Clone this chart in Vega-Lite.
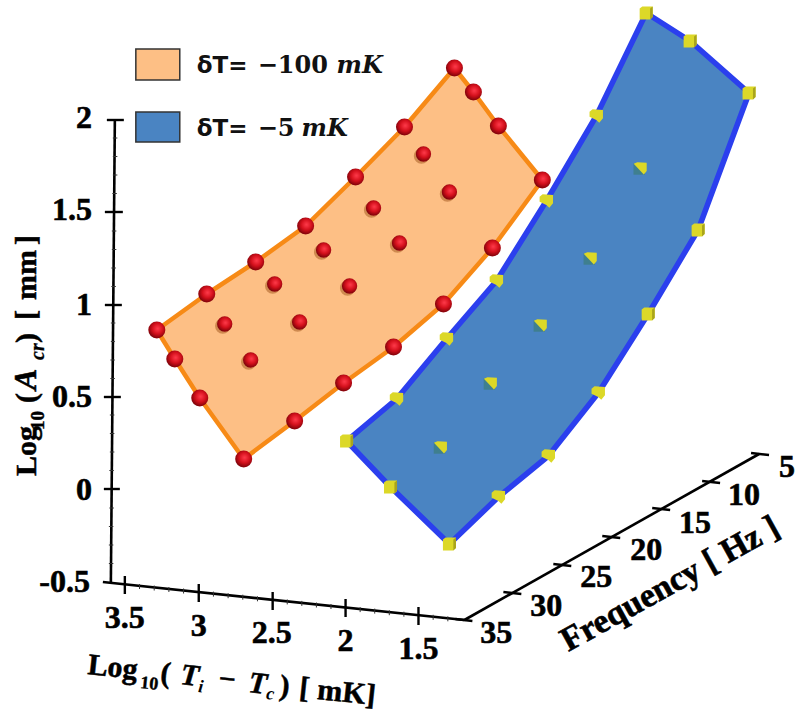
{
"$schema":"https://vega.github.io/schema/vega-lite/v6.json",
"width":795,"height":713,"padding":0,
"autosize":{"type":"fit","contains":"padding"},
"config":{"view":{"stroke":null}},
"datasets":{
"axisLines":[{"x":103,"y":582,"x2":465,"y2":620},{"x":465,"y":620,"x2":760,"y2":454},{"x":111,"y":582,"x2":115,"y2":120}],
"majorTicks":[
{"x":107,"y":120,"x2":124,"y2":120},{"x":105,"y":212,"x2":123,"y2":212},{"x":105,"y":305,"x2":122,"y2":305},{"x":104,"y":397,"x2":121,"y2":397},{"x":104,"y":489,"x2":120,"y2":489},
{"x":125,"y":576,"x2":125,"y2":594},{"x":199,"y":584,"x2":199,"y2":602},{"x":273,"y":592,"x2":273,"y2":610},{"x":346,"y":599,"x2":346,"y2":617},{"x":419,"y":607,"x2":419,"y2":625},
{"x":752,"y":453,"x2":770,"y2":455},{"x":703,"y":481,"x2":721,"y2":483},{"x":653,"y":508,"x2":671,"y2":510},{"x":603,"y":536,"x2":621,"y2":538},{"x":554,"y":564,"x2":572,"y2":566},{"x":504,"y":592,"x2":522,"y2":594},{"x":456,"y":619,"x2":473,"y2":621}],
"minorTicks":[
{"x":109,"y":563.5,"x2":113.5,"y2":563.5},{"x":109,"y":545,"x2":113.5,"y2":545},{"x":109,"y":526.5,"x2":113.5,"y2":526.5},{"x":109.5,"y":508,"x2":114,"y2":508},
{"x":109.5,"y":470.5,"x2":114,"y2":470.5},{"x":110,"y":452,"x2":114.5,"y2":452},{"x":110,"y":433.5,"x2":114.5,"y2":433.5},{"x":110,"y":415,"x2":114.5,"y2":415},
{"x":110.5,"y":378.5,"x2":115,"y2":378.5},{"x":110.5,"y":360,"x2":115,"y2":360},{"x":111,"y":341.5,"x2":115,"y2":341.5},{"x":111,"y":323,"x2":115.5,"y2":323},
{"x":111.5,"y":286.5,"x2":116,"y2":286.5},{"x":111.5,"y":268,"x2":116,"y2":268},{"x":112,"y":249.5,"x2":116.5,"y2":249.5},{"x":112,"y":231,"x2":116.5,"y2":231},
{"x":112.5,"y":193.5,"x2":117,"y2":193.5},{"x":113,"y":175,"x2":117.5,"y2":175},{"x":113,"y":156.5,"x2":117.5,"y2":156.5},{"x":113,"y":138,"x2":117.5,"y2":138},
{"x":139.7,"y":584,"x2":139.7,"y2":589},{"x":154.4,"y":585.5,"x2":154.4,"y2":590.5},{"x":169.1,"y":587,"x2":169.1,"y2":592},{"x":183.8,"y":588.5,"x2":183.8,"y2":593.5},
{"x":213.7,"y":591.6,"x2":213.7,"y2":596.6},{"x":228.4,"y":593.2,"x2":228.4,"y2":598.2},{"x":243.1,"y":594.7,"x2":243.1,"y2":599.7},{"x":257.8,"y":596.3,"x2":257.8,"y2":601.3},
{"x":287.6,"y":599.4,"x2":287.6,"y2":604.4},{"x":302.2,"y":600.9,"x2":302.2,"y2":605.9},{"x":316.8,"y":602.5,"x2":316.8,"y2":607.5},{"x":331.4,"y":604,"x2":331.4,"y2":609},
{"x":360.6,"y":607.1,"x2":360.6,"y2":612.1},{"x":375.2,"y":608.6,"x2":375.2,"y2":613.6},{"x":389.8,"y":610.2,"x2":389.8,"y2":615.2},{"x":404.4,"y":611.7,"x2":404.4,"y2":616.7},
{"x":433.7,"y":614.8,"x2":433.7,"y2":619.8},{"x":448.4,"y":616.3,"x2":448.4,"y2":621.3}],
"tickLabels":[
{"x":92,"y":118,"t":"2"},{"x":92,"y":210,"t":"1.5"},{"x":92,"y":305,"t":"1"},{"x":92,"y":397,"t":"0.5"},{"x":92,"y":490,"t":"0"},{"x":90,"y":582,"t":"-0.5"}],
"tickLabelsC":[
{"x":125,"y":618,"t":"3.5"},{"x":199,"y":626,"t":"3"},{"x":272,"y":633,"t":"2.5"},{"x":346,"y":641,"t":"2"},{"x":419,"y":649,"t":"1.5"},
{"x":788,"y":467,"t":"5"},{"x":745,"y":495,"t":"10"},{"x":696,"y":523,"t":"15"},{"x":647,"y":550,"t":"20"},{"x":597,"y":577,"t":"25"},{"x":547,"y":606,"t":"30"},{"x":497,"y":633,"t":"35"}],
"orangeEdge":[{"i":0,"x":157,"y":330},{"i":1,"x":207,"y":294},{"i":2,"x":256,"y":262},{"i":3,"x":306,"y":226},{"i":4,"x":356,"y":177},{"i":5,"x":405,"y":127},{"i":6,"x":455,"y":68},{"i":7,"x":474,"y":92},{"i":8,"x":499,"y":126},{"i":9,"x":543,"y":180},{"i":10,"x":493,"y":248},{"i":11,"x":444,"y":304},{"i":12,"x":394,"y":347},{"i":13,"x":344,"y":383},{"i":14,"x":295,"y":421},{"i":15,"x":244,"y":459},{"i":16,"x":200,"y":398},{"i":17,"x":175,"y":359},{"i":18,"x":157,"y":330}],
"orangeInner":[{"x":225,"y":324},{"x":275,"y":284},{"x":324,"y":250},{"x":374,"y":208},{"x":424,"y":154},{"x":251,"y":360},{"x":300,"y":322},{"x":350,"y":286},{"x":400,"y":243},{"x":450,"y":192}],
"blueEdge":[{"i":0,"x":347,"y":441},{"i":1,"x":397,"y":399},{"i":2,"x":447,"y":339},{"i":3,"x":497,"y":281},{"i":4,"x":547,"y":201},{"i":5,"x":597,"y":116},{"i":6,"x":647,"y":13},{"i":7,"x":691,"y":41},{"i":8,"x":750,"y":93},{"i":9,"x":699,"y":230},{"i":10,"x":649,"y":314},{"i":11,"x":599,"y":393},{"i":12,"x":549,"y":456},{"i":13,"x":499,"y":497},{"i":14,"x":450,"y":544},{"i":15,"x":391,"y":487},{"i":16,"x":347,"y":441}],
"cubesFull":[{"x":347,"y":441},{"x":450,"y":544},{"x":391,"y":487},{"x":647,"y":13},{"x":691,"y":41},{"x":750,"y":93},{"x":699,"y":230},{"x":649,"y":314}],
"cubesHalf":[{"x":397,"y":399},{"x":447,"y":339},{"x":497,"y":281},{"x":547,"y":201},{"x":597,"y":116},{"x":599,"y":393},{"x":549,"y":456},{"x":499,"y":497}],
"cubesInner":[{"x":441,"y":447},{"x":491,"y":383},{"x":541,"y":325},{"x":591,"y":258},{"x":641,"y":168}],
"legendBoxes":[{"s":"a","x":136,"x2":180,"y":49,"y2":80},{"s":"b","x":136,"x2":180,"y":112,"y2":142}],
"legendSans":[{"x":197,"y":73,"t":"δT="},{"x":197,"y":136,"t":"δT="}],
"legendNum":[{"x":258,"y":73,"t":"−100"},{"x":258,"y":136,"t":"−5"}],
"legendUnit":[{"x":337,"y":73,"t":"mK"},{"x":302,"y":136,"t":"mK"}],
"zTitleMain":[{"x":36,"y":476,"t":"Log"},{"x":36,"y":403,"t":"("},{"x":36,"y":343,"t":")"},{"x":36,"y":320,"t":"["},{"x":36,"y":300,"t":"mm"},{"x":36,"y":245,"t":"]"}],
"zTitleSub":[{"x":44,"y":430,"t":"10"}],
"zTitleIt":[{"x":36,"y":390,"t":"A"}],
"zTitleItSub":[{"x":44,"y":360,"t":"cr"}],
"xTitleMain":[{"x":87,"y":674,"t":"Log"},{"x":160,"y":682,"t":"("},{"x":218,"y":688,"t":"−"},{"x":279,"y":695,"t":")"},{"x":299,"y":697,"t":"["},{"x":317,"y":699,"t":"mK]"}],
"xTitleSub":[{"x":140,"y":688,"t":"10"}],
"xTitleIt":[{"x":180,"y":684,"t":"T"},{"x":248,"y":692,"t":"T"}],
"xTitleItSub":[{"x":198,"y":692,"t":"i"},{"x":266,"y":699,"t":"c"}],
"fTitle":[{"x":569,"y":652,"t":"Frequency [ Hz ]"}]
},
"encoding":{
"x":{"field":"x","type":"quantitative","axis":null,"scale":{"domain":[0,795],"nice":false,"zero":false}},
"y":{"field":"y","type":"quantitative","axis":null,"scale":{"domain":[713,0],"nice":false,"zero":false}}
},
"layer":[
{"data":{"name":"axisLines"},"mark":{"type":"rule","color":"#000","strokeWidth":2.6},"encoding":{"x2":{"field":"x2"},"y2":{"field":"y2"}}},
{"data":{"name":"majorTicks"},"mark":{"type":"rule","color":"#000","strokeWidth":2.4},"encoding":{"x2":{"field":"x2"},"y2":{"field":"y2"}}},
{"data":{"name":"minorTicks"},"mark":{"type":"rule","color":"#333","strokeWidth":1},"encoding":{"x2":{"field":"x2"},"y2":{"field":"y2"}}},
{"data":{"name":"tickLabels"},"mark":{"type":"text","font":"Liberation Serif","fontWeight":"bold","fontSize":32,"align":"right","baseline":"middle","color":"#000","stroke":"#000","strokeWidth":0.6},"encoding":{"text":{"field":"t"}}},
{"data":{"name":"tickLabelsC"},"mark":{"type":"text","font":"Liberation Serif","fontWeight":"bold","fontSize":32,"align":"center","baseline":"middle","color":"#000","stroke":"#000","strokeWidth":0.6},"encoding":{"text":{"field":"t"}}},
{"data":{"name":"orangeEdge"},"mark":{"type":"line","fill":"#fdbf85","stroke":"#f78a16","strokeWidth":4.5,"strokeJoin":"round"},"encoding":{"order":{"field":"i"}}},
{"data":{"name":"orangeInner"},"mark":{"type":"point","shape":"circle","filled":true,"fill":"#cf8a50","opacity":1,"size":235,"xOffset":-2,"yOffset":2}},
{"data":{"name":"orangeEdge"},"transform":[{"filter":"datum.i<18"}],"mark":{"type":"point","shape":"circle","filled":true,"opacity":1,"size":290,"fill":{"gradient":"radial","x1":0.55,"y1":0.42,"r1":0,"x2":0.55,"y2":0.42,"r2":0.62,"stops":[{"offset":0,"color":"#ff3b4b"},{"offset":0.5,"color":"#d4101c"},{"offset":1,"color":"#6e0006"}]}}},
{"data":{"name":"orangeInner"},"mark":{"type":"point","shape":"circle","filled":true,"opacity":1,"size":235,"fill":{"gradient":"radial","x1":0.55,"y1":0.42,"r1":0,"x2":0.55,"y2":0.42,"r2":0.62,"stops":[{"offset":0,"color":"#ff3b4b"},{"offset":0.5,"color":"#d4101c"},{"offset":1,"color":"#6e0006"}]}}},
{"data":{"name":"blueEdge"},"mark":{"type":"line","fill":"#4a84c2","stroke":"#2b3fee","strokeWidth":5.5,"strokeJoin":"round"},"encoding":{"order":{"field":"i"}}},
{"data":{"name":"cubesInner"},"mark":{"type":"point","shape":"square","filled":true,"fill":"#3f7f8f","opacity":1,"size":130,"xOffset":-1,"yOffset":1}},
{"data":{"name":"cubesHalf"},"mark":{"type":"point","shape":"M-1,-0.65L-0.55,-1L1,-0.9L1,0.35L0.45,1L0,0.6L-1,0.1Z","filled":true,"fill":"#dcd828","opacity":1,"size":180}},
{"data":{"name":"cubesInner"},"mark":{"type":"point","shape":"M-1,-0.65L-0.45,-0.9L1,-0.8L1,0.45L0.55,1Z","filled":true,"fill":"#dcd828","opacity":1,"size":170}},
{"data":{"name":"cubesFull"},"mark":{"type":"point","shape":"M-1,-0.7L-0.6,-1L1,-1L1,0.6L0.6,1L-1,1Z","filled":true,"fill":"#dcd828","opacity":1,"size":170}},
{"data":{"name":"cubesFull"},"mark":{"type":"point","shape":"M0.6,-0.7L1,-1L1,0.6L0.6,1Z","filled":true,"fill":"#a9a41c","opacity":1,"size":170}},
{"data":{"name":"legendBoxes"},"mark":{"type":"rect","stroke":"#333","strokeWidth":1.5},"encoding":{"x2":{"field":"x2"},"y2":{"field":"y2"},"color":{"field":"s","type":"nominal","legend":null,"scale":{"domain":["a","b"],"range":["#fdbf85","#4a84c2"]}}}},
{"data":{"name":"legendSans"},"mark":{"type":"text","font":"DejaVu Sans","fontWeight":"bold","fontSize":23,"align":"left","baseline":"alphabetic","color":"#111"},"encoding":{"text":{"field":"t"}}},
{"data":{"name":"legendNum"},"mark":{"type":"text","font":"DejaVu Serif","fontWeight":"bold","fontSize":24,"align":"left","baseline":"alphabetic","color":"#111"},"encoding":{"text":{"field":"t"}}},
{"data":{"name":"legendUnit"},"mark":{"type":"text","font":"DejaVu Serif","fontWeight":"bold","fontStyle":"italic","fontSize":24,"align":"left","baseline":"alphabetic","color":"#111"},"encoding":{"text":{"field":"t"}}},
{"data":{"name":"zTitleMain"},"mark":{"type":"text","font":"Liberation Serif","fontWeight":"bold","fontSize":30,"angle":270,"align":"left","baseline":"alphabetic","color":"#000","stroke":"#000","strokeWidth":0.5},"encoding":{"text":{"field":"t"}}},
{"data":{"name":"zTitleSub"},"mark":{"type":"text","font":"Liberation Serif","fontWeight":"bold","fontSize":19,"angle":270,"align":"left","baseline":"alphabetic","color":"#000","stroke":"#000","strokeWidth":0.4},"encoding":{"text":{"field":"t"}}},
{"data":{"name":"zTitleIt"},"mark":{"type":"text","font":"Liberation Serif","fontWeight":"bold","fontStyle":"italic","fontSize":32,"angle":270,"align":"left","baseline":"alphabetic","color":"#000","stroke":"#000","strokeWidth":0.5},"encoding":{"text":{"field":"t"}}},
{"data":{"name":"zTitleItSub"},"mark":{"type":"text","font":"Liberation Serif","fontWeight":"bold","fontStyle":"italic","fontSize":20,"angle":270,"align":"left","baseline":"alphabetic","color":"#000","stroke":"#000","strokeWidth":0.3},"encoding":{"text":{"field":"t"}}},
{"data":{"name":"xTitleMain"},"mark":{"type":"text","font":"Liberation Serif","fontWeight":"bold","fontSize":30,"angle":6,"align":"left","baseline":"alphabetic","color":"#000","stroke":"#000","strokeWidth":0.5},"encoding":{"text":{"field":"t"}}},
{"data":{"name":"xTitleSub"},"mark":{"type":"text","font":"Liberation Serif","fontWeight":"bold","fontSize":18,"angle":6,"align":"left","baseline":"alphabetic","color":"#000","stroke":"#000","strokeWidth":0.4},"encoding":{"text":{"field":"t"}}},
{"data":{"name":"xTitleIt"},"mark":{"type":"text","font":"Liberation Serif","fontWeight":"bold","fontStyle":"italic","fontSize":30,"angle":6,"align":"left","baseline":"alphabetic","color":"#000","stroke":"#000","strokeWidth":0.5},"encoding":{"text":{"field":"t"}}},
{"data":{"name":"xTitleItSub"},"mark":{"type":"text","font":"Liberation Serif","fontWeight":"bold","fontStyle":"italic","fontSize":18,"angle":6,"align":"left","baseline":"alphabetic","color":"#000"},"encoding":{"text":{"field":"t"}}},
{"data":{"name":"fTitle"},"mark":{"type":"text","font":"Liberation Serif","fontWeight":"bold","fontSize":34,"angle":331,"align":"left","baseline":"alphabetic","color":"#000","stroke":"#000","strokeWidth":0.6},"encoding":{"text":{"field":"t"}}}
]
}
